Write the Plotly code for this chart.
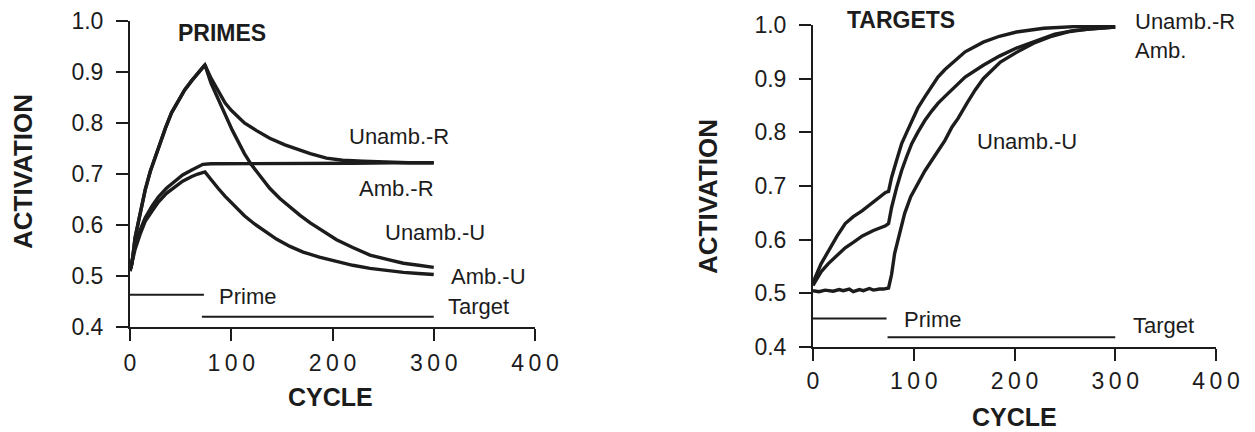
import plotly.graph_objects as go

# page body has an 8px margin: figure is sized so it fits the 1255x432 window
OFF = 8
W, H = 1255 - OFF, 432 - OFF

# ---------------- PRIMES panel data ----------------
p_unambR_x = [0, 2, 5, 10, 15, 20, 28, 35, 41, 48, 54, 61, 67, 74, 80, 87, 94, 100, 113, 125, 138, 153, 165, 178, 194, 210, 230, 250, 275, 300]
p_unambR_y = [0.51, 0.525, 0.575, 0.625, 0.669, 0.705, 0.753, 0.79, 0.82, 0.845, 0.865, 0.883, 0.898, 0.914, 0.888, 0.862, 0.839, 0.825, 0.80, 0.785, 0.77, 0.757, 0.748, 0.74, 0.731, 0.727, 0.725, 0.723, 0.722, 0.722]

p_unambU_x = [0, 2, 5, 10, 15, 20, 28, 35, 41, 48, 54, 61, 67, 74, 80, 87, 94, 101, 113, 120, 127, 138, 148, 158, 168, 178, 190, 204, 220, 237, 255, 270, 285, 300]
p_unambU_y = [0.51, 0.525, 0.575, 0.625, 0.669, 0.705, 0.753, 0.79, 0.82, 0.845, 0.865, 0.883, 0.898, 0.914, 0.878, 0.847, 0.815, 0.786, 0.74, 0.718, 0.70, 0.672, 0.652, 0.635, 0.619, 0.604, 0.588, 0.571, 0.556, 0.541, 0.532, 0.525, 0.521, 0.517]

p_ambR_x = [0, 2, 5, 10, 15, 22, 28, 36, 44, 52, 61, 67, 72, 80, 100, 140, 180, 220, 260, 300]
p_ambR_y = [0.51, 0.53, 0.56, 0.59, 0.614, 0.638, 0.655, 0.672, 0.686, 0.698, 0.708, 0.714, 0.719, 0.72, 0.72, 0.72, 0.721, 0.721, 0.722, 0.722]

p_ambU_x = [0, 2, 5, 10, 15, 22, 28, 36, 44, 52, 61, 67, 74, 80, 87, 94, 103, 113, 123, 133, 145, 158, 171, 187, 204, 220, 237, 255, 270, 285, 300]
p_ambU_y = [0.51, 0.528, 0.552, 0.582, 0.607, 0.628, 0.645, 0.662, 0.675, 0.686, 0.695, 0.70, 0.704, 0.688, 0.672, 0.656, 0.637, 0.618, 0.602, 0.588, 0.572, 0.558, 0.547, 0.537, 0.528, 0.521, 0.515, 0.51, 0.507, 0.505, 0.503]

# ---------------- TARGETS panel data ----------------
t_unambR_x = [0, 2, 8, 15, 24, 32, 40, 49, 60, 72, 75, 78, 83, 88, 93, 98, 104, 111, 118, 124, 131, 138, 151, 169, 185, 202, 229, 260, 300]
t_unambR_y = [0.515, 0.529, 0.555, 0.579, 0.607, 0.63, 0.643, 0.654, 0.671, 0.688, 0.69, 0.716, 0.748, 0.779, 0.80, 0.822, 0.845, 0.866, 0.886, 0.903, 0.917, 0.929, 0.95, 0.968, 0.979, 0.987, 0.994, 0.997, 0.998]

t_amb_x = [0, 8, 15, 24, 32, 40, 49, 60, 72, 75, 78, 83, 88, 93, 98, 104, 111, 118, 124, 131, 138, 151, 169, 185, 202, 225, 240, 260, 300]
t_amb_y = [0.515, 0.54, 0.555, 0.572, 0.585, 0.595, 0.607, 0.617, 0.626, 0.63, 0.66, 0.697, 0.729, 0.755, 0.779, 0.80, 0.822, 0.84, 0.854, 0.867, 0.879, 0.903, 0.925, 0.942, 0.957, 0.972, 0.983, 0.99, 0.996]

t_unambU_x = [0, 6, 12, 20, 26, 30, 36, 40, 46, 50, 56, 60, 66, 70, 75, 78, 81, 86, 91, 97, 104, 111, 118, 124, 131, 138, 144, 153, 161, 169, 178, 186, 202, 219, 235, 255, 275, 300]
t_unambU_y = [0.505, 0.503, 0.506, 0.504, 0.507, 0.505, 0.508, 0.503, 0.507, 0.505, 0.509, 0.506, 0.508, 0.508, 0.51, 0.535, 0.574, 0.615, 0.649, 0.68, 0.705, 0.728, 0.748, 0.766, 0.785, 0.81, 0.826, 0.855, 0.879, 0.90, 0.917, 0.931, 0.949, 0.966, 0.978, 0.988, 0.993, 0.996]

# stimulus bars (Prime / Target)
p_prime_span, p_prime_level = [0, 73], 0.463
p_target_span, p_target_level = [71, 300], 0.42
t_prime_span, t_prime_level = [0, 73], 0.453
t_target_span, t_target_level = [74, 300], 0.418

x_ticks = [0, 100, 200, 300, 400]
x_ticktext = ["0", "1\u20090\u20090", "2\u20090\u20090", "3\u20090\u20090", "4\u20090\u20090"]
y_ticks = [0.4, 0.5, 0.6, 0.7, 0.8, 0.9, 1.0]

INK = "#1c1c1c"
FONT = "Liberation Sans, Arial, sans-serif"

fig = go.Figure()

def curve(x, y, xa, ya, w=3.4):
    fig.add_trace(go.Scatter(x=x, y=y, mode="lines", xaxis=xa, yaxis=ya,
                             line=dict(color=INK, width=w), showlegend=False,
                             hoverinfo="skip"))

for xs, ys in [(p_unambR_x, p_unambR_y), (p_unambU_x, p_unambU_y),
               (p_ambR_x, p_ambR_y), (p_ambU_x, p_ambU_y)]:
    curve(xs, ys, "x", "y")
curve(p_prime_span, [p_prime_level] * 2, "x", "y", 2)
curve(p_target_span, [p_target_level] * 2, "x", "y", 2)

for xs, ys in [(t_unambR_x, t_unambR_y), (t_amb_x, t_amb_y), (t_unambU_x, t_unambU_y)]:
    curve(xs, ys, "x2", "y2")
curve(t_prime_span, [t_prime_level] * 2, "x2", "y2", 2)
curve(t_target_span, [t_target_level] * 2, "x2", "y2", 2)

def px(v):
    return (v - OFF) / W

def py(v):
    return 1 - (v - OFF) / H

axis_common = dict(showgrid=False, zeroline=False, showline=True, linecolor=INK,
                   linewidth=2, ticks="outside", tickcolor=INK, tickwidth=2,
                   ticklen=12, automargin=False,
                   tickfont=dict(family=FONT, size=23, color=INK))

fig.update_layout(
    width=W, height=H, margin=dict(l=0, r=0, t=0, b=0, pad=0, autoexpand=False),
    paper_bgcolor="white", plot_bgcolor="white",
    xaxis=dict(domain=[px(130), px(535)], range=[0, 400], anchor="y",
               tickvals=x_ticks, ticktext=x_ticktext, ticklabelstandoff=2, **axis_common),
    yaxis=dict(domain=[py(327), py(21)], range=[0.4, 1.0], anchor="x",
               tickvals=y_ticks, tickformat=".1f", ticklabelstandoff=8, **axis_common),
    xaxis2=dict(domain=[px(813), px(1216)], range=[0, 400], anchor="y2",
                tickvals=x_ticks, ticktext=x_ticktext, ticklabelstandoff=0, **axis_common),
    yaxis2=dict(domain=[py(347), py(25)], range=[0.4, 1.0], anchor="x2",
                tickvals=y_ticks, tickformat=".1f", ticklabelstandoff=8, **axis_common),
)

reg = dict(family=FONT, size=22, color=INK)
bold = dict(family=FONT, size=25, color=INK, weight="bold")
tbold = dict(family=FONT, size=23, color=INK, weight="bold")
abold = dict(family=FONT, size=26, color=INK, weight="bold")

ann = [
    # left panel texts (data coords)
    dict(x=91, y=0.976, xref="x", yref="y", text="PRIMES", font=tbold),
    dict(x=266, y=0.773, xref="x", yref="y", text="Unamb.-R", font=reg),
    dict(x=263, y=0.671, xref="x", yref="y", text="Amb.-R", font=reg),
    dict(x=301, y=0.586, xref="x", yref="y", text="Unamb.-U", font=reg),
    dict(x=354, y=0.50, xref="x", yref="y", text="Amb.-U", font=reg),
    dict(x=344, y=0.440, xref="x", yref="y", text="Target", font=reg),
    dict(x=116, y=0.459, xref="x", yref="y", text="Prime", font=reg),
    # right panel texts
    dict(x=px(901), y=py(20), xref="paper", yref="paper", text="TARGETS", font=tbold),
    dict(x=px(1133), y=py(21), xref="paper", yref="paper", text="Unamb.-R", font=reg, xanchor="left"),
    dict(x=px(1133), y=py(51), xref="paper", yref="paper", text="Amb.", font=reg, xanchor="left"),
    dict(x=212, y=0.782, xref="x2", yref="y2", text="Unamb.-U", font=reg),
    dict(x=348, y=0.441, xref="x2", yref="y2", text="Target", font=reg),
    dict(x=119, y=0.4515, xref="x2", yref="y2", text="Prime", font=reg),
    # axis titles
    dict(x=px(23), y=py(172), xref="paper", yref="paper", text="ACTIVATION", textangle=-90, font=abold),
    dict(x=px(708), y=py(197), xref="paper", yref="paper", text="ACTIVATION", textangle=-90, font=abold),
    dict(x=px(330), y=py(397), xref="paper", yref="paper", text="CYCLE", font=bold),
    dict(x=px(1014), y=py(417), xref="paper", yref="paper", text="CYCLE", font=bold),
]
for a in ann:
    a.setdefault("xanchor", "center")
    a.setdefault("yanchor", "middle")
    a["showarrow"] = False
    fig.add_annotation(**a)

fig.write_html("out.html")
